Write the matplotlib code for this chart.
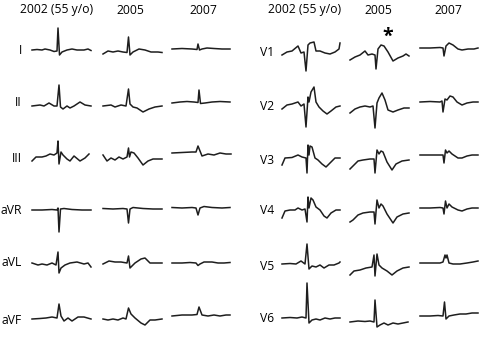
import matplotlib.pyplot as plt

plt.rcParams['font.family'] = ['Open Sans', 'DejaVu Sans']

years = ["2002 (55 y/o)", "2005", "2007"]
limb_leads = ["I", "II", "III", "aVR", "aVL", "aVF"]
chest_leads = ["V1", "V2", "V3", "V4", "V5", "V6"]

# each trace: (dx in px from trace start, deflection in px, up positive)
# one list per lead, three recordings: 2002, 2005, 2007
lead_I = [
    [(0, 0), (5, 0.5), (10, 0), (13, 1), (18, 0), (22, -1.5), (25, -1), (26, 22), (27.5, -5), (30, -2), (35, 0), (40, 1), (45, 0), (52, 0), (56, 1), (59, -0.5)],
    [(0, -2), (5, 1), (10, 0), (15, 1), (20, 0), (24, -0.5), (25.5, 15), (27, -3), (30, 0), (36, 3), (42, 2), (48, 0), (55, 0), (59, -0.5)],
    [(0, 0), (10, 0.5), (20, 0), (25, -0.5), (26, 5), (27.5, -1), (30, 0), (35, 1), (42, 0.5), (50, 0), (58, 0)],
]
lead_II = [
    [(0, 0), (8, 1), (12, 0), (17, 3), (22, 0), (25, 0), (27, 21), (28.5, -1), (31, -3), (35, 0), (38, -2), (42, 0), (48, 4), (53, 1), (59, 0)],
    [(0, 0), (8, 1), (12, -1), (18, 1), (23, 0), (25.5, 17), (27, 2), (30, -1), (34, -2), (40, -6), (46, -3), (52, -1), (59, 0)],
    [(0, -1), (8, 0), (15, 0.5), (22, 0), (26, -0.5), (27, 12), (28.5, -1.5), (33, -1), (40, 0), (48, 0.5), (58, 0)],
]
lead_III = [
    [(0, -2), (4, 2), (10, 2), (14, 3), (18, 5), (22, 4), (25, 6), (26, 18), (27, -5), (29, 7), (31, 4), (35, 0), (38, -2), (42, 3), (48, -2), (53, 1), (57, 5)],
    [(0, 4), (4, -2), (8, 1), (12, -1), (16, 2), (20, 0), (24, 2), (25.5, 11), (26.5, 2), (28, 7), (31, 6), (35, 1), (40, -6), (45, -2), (50, 0), (59, 0)],
    [(0, 0), (10, 0.5), (20, 1), (24, 1), (26, 7), (28, 2), (30, -3), (36, -1), (42, -2), (48, 0), (54, -1), (59, -1)],
]
lead_aVR = [
    [(0, 0), (10, 0), (20, 0.5), (25, 0), (26, 2), (27, -22), (28.5, 1), (32, 1.5), (40, 0.5), (50, 0), (59, 0)],
    [(0, 0.5), (10, 0), (20, 0.5), (24, 0), (25.5, -14), (27, 0), (30, 1.5), (40, 0.5), (50, 0), (59, 0)],
    [(0, 0.5), (10, 0), (20, 0.5), (24, 0), (26, -7), (28, 0), (32, 1.5), (40, 0.5), (50, 0), (58, 0.5)],
]
lead_aVL = [
    [(0, 1), (6, -1), (10, 0), (15, -1), (20, 1), (24, -1), (26, 12), (27, -9), (29, -4), (33, -1), (38, 1), (45, 2), (52, 0), (56, 1), (59, -3)],
    [(0, -1), (6, 2), (12, 1), (18, 1), (24, 0), (25.5, 7), (27, -5), (32, 0), (38, 4), (42, 5), (47, 0), (52, 0), (59, 0)],
    [(0, 0), (10, 0), (18, 0.5), (24, 0), (26, -2.5), (28, -1), (32, 1), (40, 1), (46, 0), (52, 0), (58, 0.5)],
]
lead_aVF = [
    [(0, 0), (8, 0.5), (14, 1), (20, 2), (25, 1), (27, 15), (29, 3), (32, -2), (36, 1), (40, -2), (46, 2), (52, 2), (59, 0)],
    [(0, 0), (5, -1), (10, 0), (15, -1), (20, 1), (23, 0), (25.5, 11), (28, 5), (32, 1), (38, -4), (42, -6), (47, -1), (52, -1), (59, 0)],
    [(0, -1), (10, 0), (20, 0), (25, 0.5), (27, 8), (30, 0), (36, -1), (42, 0), (48, -1), (54, 0), (58, 0)],
]
lead_V1 = [
    [(0, -2), (5, 1), (10, 2), (16, 7), (19, 0), (22, 1), (24, -18), (26, 8), (28, 10), (32, 11), (34, 2), (38, 2), (43, 0), (48, -1), (53, 1), (57, 4), (58, 10)],
    [(0, -3), (5, 0), (10, 2), (15, 6), (18, 2), (22, 3), (25, 2), (26, -12), (28, 8), (31, 12), (34, 11), (38, 5), (43, -4), (48, -1), (53, 1), (56, 3), (59, 1)],
    [(0, 0), (10, 0), (20, 0.5), (23, 0), (24, -8), (26, 2), (29, 5), (33, 3), (38, -1), (42, -2), (48, -1), (54, -1), (58, 0)],
]
lead_V2 = [
    [(0, -2), (5, 2), (10, 3), (16, 5), (19, 1), (22, 3), (24, -20), (26, 10), (27, 5), (29, 15), (32, 20), (34, 5), (37, 0), (41, -4), (45, -7), (49, -4), (54, 0), (58, 1)],
    [(0, -5), (5, -1), (10, 1), (15, 2), (20, 1), (23, 2), (25, -20), (27, 5), (29, 10), (32, 15), (35, 8), (38, -2), (43, -4), (48, -2), (54, 0), (59, 0)],
    [(0, 0), (10, 0.5), (20, 0), (22, 1), (23, -10), (25, 3), (27, 2), (30, 6), (33, 5), (37, 0), (42, -3), (47, -1), (53, 0), (58, 0)],
]
lead_V3 = [
    [(0, -7), (3, 0), (10, 0.5), (16, 3), (20, 1), (24, 0), (25, -15), (26, 13), (27, 3), (28, 12), (30, 11), (33, 0), (36, -2), (40, -6), (44, -9), (48, -5), (53, 0), (58, 0)],
    [(0, -10), (3, -7), (8, -2), (13, -1), (20, 0), (24, 0), (25, -14), (27, 9), (29, 5), (31, 8), (33, 7), (37, -3), (42, -11), (46, -5), (52, -2), (59, -1)],
    [(0, 0), (10, 0), (20, 0), (23, 0), (24, -8), (25.5, 5), (27, 2), (29, 4), (32, 1), (38, -3), (42, -3), (47, -1), (52, 0), (58, 0)],
]
lead_V4 = [
    [(0, -8), (3, -1), (8, 0), (13, 0), (16, 2), (20, 0), (23, 1), (25, -12), (26, 13), (27, 2), (29, 12), (31, 10), (34, 3), (38, 0), (42, -6), (45, -8), (49, -3), (54, 0), (58, 0)],
    [(0, -10), (3, -8), (8, -3), (13, -1), (20, 0), (24, 0), (25, -12), (27, 12), (29, 4), (31, 8), (33, 6), (37, -2), (43, -11), (47, -5), (53, -2), (59, -1)],
    [(0, 0), (10, 0), (20, 0.5), (23, 0), (24, -6), (25.5, 7), (27, 0), (29, 4), (32, 1), (38, -2), (42, -3), (47, -1), (52, 0), (58, 0)],
]
lead_V5 = [
    [(0, 0), (8, 0.5), (14, 0), (19, 3), (23, 0), (25, 20), (27, -5), (30, -2), (34, -3), (38, -1), (42, -4), (47, -1), (52, -1), (57, 1), (58, 2)],
    [(0, -8), (4, -4), (10, -3), (16, -1), (22, 0), (24, 12), (25, -9), (27, 13), (29, 2), (32, -1), (37, -4), (42, -8), (47, -4), (53, -1), (59, 0)],
    [(0, 0), (10, 0), (20, 0), (23, 1), (25, 8), (26, 5), (27, 8), (29, 0), (33, -1), (40, -1), (47, 0), (53, 1), (58, 2)],
]
lead_V6 = [
    [(0, 0), (8, 0.5), (15, 0), (20, 1), (24, 0), (25, 35), (27, -5), (30, -2), (34, -1), (38, -2), (43, 0), (48, -1), (53, 0), (58, 0)],
    [(0, 0), (8, 1), (15, 0.5), (20, 1), (24, 0), (25, 22), (27, -5), (30, -3), (34, -1), (38, -3), (43, -1), (48, -2), (53, -1), (58, 0)],
    [(0, 0), (10, 0), (18, 0.5), (23, 0), (24.5, 14), (26, -3), (29, 0), (34, 1), (40, 2), (46, 2), (52, 3), (58, 3)],
]

limb_traces = [lead_I, lead_II, lead_III, lead_aVR, lead_aVL, lead_aVF]
chest_traces = [lead_V1, lead_V2, lead_V3, lead_V4, lead_V5, lead_V6]

# layout (pixels)
limb_x0 = [32, 103, 172]
chest_x0 = [282, 350, 420]
limb_base = [[50, 52, 49], [106, 106, 102], [159, 159, 153],
             [210, 209, 208], [264, 263, 263], [319, 319, 315]]
chest_base = [[53, 57, 48], [107, 108, 102], [158, 159, 155],
              [210, 212, 208], [264, 267, 263], [318, 322, 316]]
limb_label_y = [50, 102, 159, 211, 263, 320]
chest_label_y = [52, 107, 160, 210, 266, 318]


def draw_trace(ax, pts, x0, base):
    xs = [x0 + p[0] for p in pts]
    ys = [base - p[1] for p in pts]
    ax.plot(xs, ys, color="#1e1e1e", lw=1.1, solid_joinstyle="round")


fig = plt.figure(figsize=(4.8, 3.55), dpi=100)
ax = fig.add_axes([0, 0, 1, 1])
ax.set_xlim(0, 480)
ax.set_ylim(355, 0)
ax.axis("off")

for x, lab in zip([57, 130, 203], years):
    ax.text(x, 10, lab, ha="center", va="center", fontsize=8.7)
for x, lab in zip([305, 378, 448], years):
    ax.text(x, 10, lab, ha="center", va="center", fontsize=8.7)

for i, lead in enumerate(limb_leads):
    ax.text(22, limb_label_y[i], lead, ha="right", va="center", fontsize=8.7)
    for j in range(3):
        draw_trace(ax, limb_traces[i][j], limb_x0[j], limb_base[i][j])

for i, lead in enumerate(chest_leads):
    ax.text(274, chest_label_y[i], lead, ha="right", va="center", fontsize=8.7)
    for j in range(3):
        draw_trace(ax, chest_traces[i][j], chest_x0[j], chest_base[i][j])

ax.text(388, 37, "*", ha="center", va="center", fontsize=14, fontweight="bold")

fig.savefig("out.png", dpi=100)
